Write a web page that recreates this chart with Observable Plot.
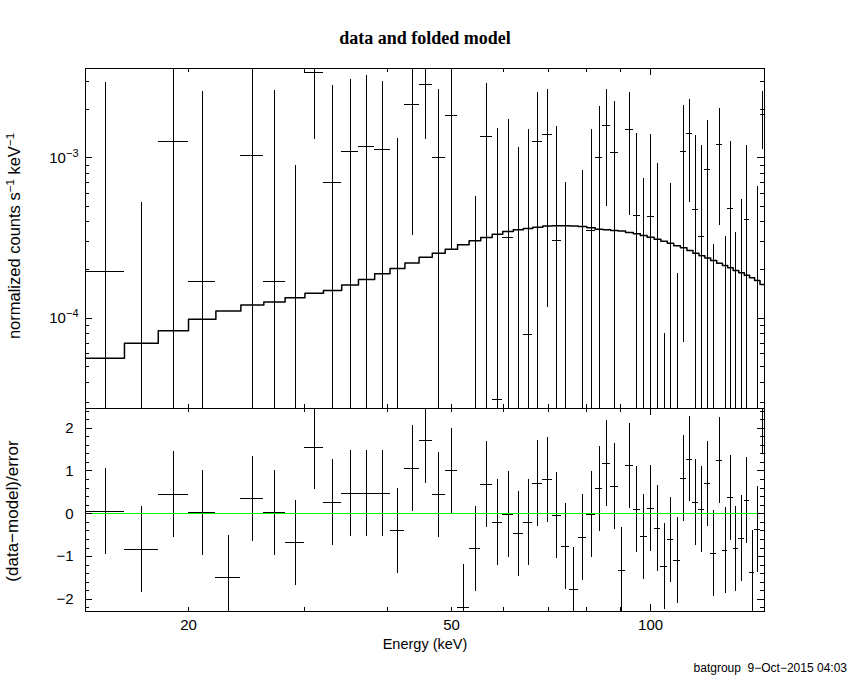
<!DOCTYPE html>
<html>
<head>
<meta charset="utf-8">
<script src="https://cdn.jsdelivr.net/npm/d3@7"></script>
<script src="https://cdn.jsdelivr.net/npm/@observablehq/plot@0.6"></script>
<style>
  body { margin: 0; background: #fff; }
  #wrap { position: relative; width: 850px; height: 680px; overflow: hidden; background: #fff; color: #000;
          font-family: "Liberation Sans", Arial, sans-serif; }
  #wrap svg { position: absolute; left: 0; }
  .lbl { position: absolute; white-space: nowrap; line-height: 1; }
  .rot { transform: translate(-50%, -50%) rotate(-90deg); }
  .ctr { transform: translate(-50%, -50%); }
  sup { font-size: 0.7em; vertical-align: 0; position: relative; top: -0.55em; }
</style>
</head>
<body>
<div id="wrap"></div>
<script>
// ---------------- data ----------------
// energy bin edges (keV), 59 bins
const binEdges = [14, 16, 18, 20, 22, 24, 26, 28, 30, 32, 34.1, 36.15, 38.25, 40.35, 42.5, 44.65,
  46.75, 48.9, 51.05, 53.15, 55.35, 57.6, 59.75, 62.0, 64.2, 66.35, 68.7, 71.0, 73.25, 75.45, 77.7,
  80.1, 82.45, 84.7, 87.0, 89.3, 91.65, 94.15, 96.5, 98.8, 101.25, 103.65, 106.0, 108.4, 110.95,
  113.5, 115.9, 118.35, 120.8, 123.25, 125.9, 128.45, 130.8, 133.3, 135.95, 138.6, 141.15, 143.65,
  146.4, 149.4];

// normalized counts s^-1 keV^-1
const rate = [1.955e-4, -2.156e-3, 1.264e-3, 1.694e-4, -3.64e-3, 1.029e-3, 1.694e-4, -1.484e-3,
  3.388e-3, 6.98e-4, 1.095e-3, 1.171e-3, 1.122e-3, -5.06e-4, 2.149e-3, 2.852e-3, 1.0e-3, 1.827e-3,
  -2.98e-3, -9.26e-4, 1.352e-3, 3.10e-5, 3.17e-4, -3.56e-4, 7.88e-5, 1.264e-3, 1.391e-3, 3.04e-4,
  -6.52e-4, -1.85e-3, -1.89e-4, 3.52e-4, 1.0e-3, 1.583e-3, 1.075e-3, -1.114e-3, 1.495e-3, 4.35e-4,
  -1.63e-4, 4.29e-4, -1.8e-5, -8.84e-4, -3.31e-4, -8.41e-4, 1.095e-3, 1.418e-3, 4.74e-4, 3.22e-4,
  8.45e-4, -5.0e-4, 1.205e-3, -4.63e-4, 4.81e-4, -4.58e-4, -3.02e-4, 4.11e-4, -9.25e-4, -1.16e-4,
  1.862e-3];

const rateErr = [2.75e-3, 2.68e-3, 2.62e-3, 2.42e-3, 2.5e-3, 2.59e-3, 2.46e-3, 2.38e-3, 2.09e-3,
  2.13e-3, 1.97e-3, 2.09e-3, 1.87e-3, 1.82e-3, 1.82e-3, 1.55e-3, 1.67e-3, 1.56e-3, 1.5e-3, 1.5e-3,
  1.55e-3, 1.485e-3, 1.416e-3, 1.515e-3, 1.422e-3, 1.29e-3, 1.275e-3, 1.263e-3, 1.354e-3, 1.25e-3,
  1.022e-3, 1.149e-3, 1.088e-3, 1.083e-3, 1.169e-3, 1.1e-3, 1.059e-3, 0.983e-3, 0.909e-3, 0.969e-3,
  0.94e-3, 0.964e-3, 1.023e-3, 1.03e-3, 1.024e-3, 0.891e-3, 0.903e-3, 0.871e-3, 0.863e-3, 0.79e-3,
  0.824e-3, 0.786e-3, 0.788e-3, 0.8e-3, 0.852e-3, 0.782e-3, 0.8e-3, 0.778e-3, 0.728e-3];

// folded model per bin
const model = [5.63e-5, 6.98e-5, 8.34e-5, 9.86e-5, 1.11e-4, 1.21e-4, 1.26e-4, 1.34e-4, 1.43e-4,
  1.49e-4, 1.61e-4, 1.74e-4, 1.89e-4, 2.04e-4, 2.21e-4, 2.40e-4, 2.54e-4, 2.69e-4, 2.87e-4, 3.04e-4,
  3.18e-4, 3.34e-4, 3.47e-4, 3.56e-4, 3.62e-4, 3.69e-4, 3.75e-4, 3.77e-4, 3.77e-4, 3.75e-4, 3.73e-4,
  3.66e-4, 3.59e-4, 3.56e-4, 3.52e-4, 3.49e-4, 3.42e-4, 3.36e-4, 3.28e-4, 3.20e-4, 3.11e-4, 3.02e-4,
  2.93e-4, 2.83e-4, 2.75e-4, 2.64e-4, 2.54e-4, 2.45e-4, 2.37e-4, 2.29e-4, 2.20e-4, 2.13e-4, 2.06e-4,
  1.98e-4, 1.92e-4, 1.85e-4, 1.79e-4, 1.72e-4, 1.62e-4];

// (data-model)/error per bin
const resid = [0.05, -0.83, 0.45, 0.02, -1.50, 0.35, 0.02, -0.68, 1.56, 0.26, 0.48, 0.48, 0.48,
  -0.40, 1.06, 1.71, 0.44, 1.00, -2.18, -0.82, 0.68, -0.21, -0.02, -0.47, -0.21, 0.71, 0.79, -0.04,
  -0.76, -1.78, -0.55, -0.02, 0.58, 1.18, 0.64, -1.33, 1.12, 0.10, -0.54, 0.12, -0.35, -1.23, -0.61,
  -1.09, 0.82, 1.28, 0.26, 0.10, 0.70, -0.93, 1.24, -0.86, 0.37, -0.82, -0.58, 0.31, -1.38, -0.37,
  2.38];

// axis ticks
const xTickLabels = [20, 50, 100];
const xMinorTicks = [20, 30, 40, 50, 60, 70, 80, 90];
const xMajorTicks = [100];
const yTopTickLabels = [1e-4, 1e-3];
const yTopMinorTicks = [3e-5, 4e-5, 5e-5, 6e-5, 7e-5, 8e-5, 9e-5, 2e-4, 3e-4, 4e-4, 5e-4, 6e-4,
  7e-4, 8e-4, 9e-4, 2e-3, 3e-3];
const yBotTickLabels = [-2, -1, 0, 1, 2];
const yBotMinorTicks = [-2.2, -1.8, -1.6, -1.4, -1.2, -0.8, -0.6, -0.4, -0.2, 0.2, 0.4, 0.6, 0.8,
  1.2, 1.4, 1.6, 1.8, 2.2, 2.4];

// ---------------- build ----------------
const bins = rate.map((r, i) => ({
  lo: binEdges[i], hi: binEdges[i + 1], mid: (binEdges[i] + binEdges[i + 1]) / 2,
  rate: r, err: rateErr[i], model: model[i], resid: resid[i]
}));
const modelSteps = bins.flatMap(b => [{e: b.lo, m: b.model}, {e: b.hi, m: b.model}]);

const W = 850, ML = 85, MR = 86;
const innerW = W - ML - MR;
const X_DOMAIN = [13.97, 148.7];
const FONT = "'Liberation Sans', Arial, sans-serif";
const crisp = {shapeRendering: "crispEdges"};

function tickMarks(innerH, xMinor, xMajor, yMinor, yMajor) {
  const o = {stroke: "black", strokeWidth: 1, ...crisp};
  return [
    Plot.ruleX(xMinor, {...o, x: d => d, insetTop: innerH - 4}),
    Plot.ruleX(xMinor, {...o, x: d => d, insetBottom: innerH - 4}),
    Plot.ruleX(xMajor, {...o, x: d => d, insetTop: innerH - 7}),
    Plot.ruleX(xMajor, {...o, x: d => d, insetBottom: innerH - 7}),
    Plot.ruleY(yMinor, {...o, y: d => d, insetRight: innerW - 4}),
    Plot.ruleY(yMinor, {...o, y: d => d, insetLeft: innerW - 4}),
    Plot.ruleY(yMajor, {...o, y: d => d, insetRight: innerW - 7}),
    Plot.ruleY(yMajor, {...o, y: d => d, insetLeft: innerW - 7})
  ];
}

const style = {fontFamily: FONT, fontSize: "15px", background: "transparent", overflow: "visible", color: "black"};

// top panel
const H1 = 410, MT1 = 68, MB1 = 2;
const topPlot = Plot.plot({
  width: W, height: H1, marginLeft: ML, marginRight: MR, marginTop: MT1, marginBottom: MB1,
  style,
  x: {type: "log", domain: X_DOMAIN, axis: null},
  y: {type: "log", domain: [2.735e-5, 3.603e-3], axis: null},
  marks: [
    Plot.ruleX(bins, {x: "mid", y1: d => Math.max(d.rate - d.err, 1e-7), y2: d => d.rate + d.err,
      stroke: "black", strokeWidth: 1, clip: true, ...crisp}),
    Plot.ruleY(bins.filter(d => d.rate > 0), {y: "rate", x1: "lo", x2: "hi",
      stroke: "black", strokeWidth: 1, clip: true, ...crisp}),
    Plot.line(modelSteps, {x: "e", y: "m", stroke: "black", strokeWidth: 1.5, clip: true}),
    ...tickMarks(H1 - MT1 - MB1, xMinorTicks, xMajorTicks, yTopMinorTicks, yTopTickLabels),
    Plot.axisY({ticks: yTopTickLabels, anchor: "left", tickSize: 0, tickPadding: 7, label: null,
      tickFormat: d => "10^\u2212" + Math.round(-Math.log10(d))}),
    Plot.frame({stroke: "black", strokeWidth: 1, ...crisp})
  ]
});

// bottom panel
const H2 = 274, MT2 = 2, MB2 = 69, TOP2 = 406;
const botPlot = Plot.plot({
  width: W, height: H2, marginLeft: ML, marginRight: MR, marginTop: MT2, marginBottom: MB2,
  style,
  x: {type: "log", domain: X_DOMAIN, axis: null},
  y: {domain: [-2.283, 2.46], axis: null},
  marks: [
    Plot.ruleX(bins, {x: "mid", y1: d => d.resid - 1, y2: d => d.resid + 1,
      stroke: "black", strokeWidth: 1, clip: true, ...crisp}),
    Plot.ruleY(bins, {y: "resid", x1: "lo", x2: "hi", stroke: "black", strokeWidth: 1, clip: true, ...crisp}),
    Plot.ruleY([0], {stroke: "#00ff00", strokeWidth: 1, ...crisp}),
    ...tickMarks(H2 - MT2 - MB2, xMinorTicks, xMajorTicks, yBotMinorTicks, yBotTickLabels),
    Plot.axisX({ticks: xTickLabels, anchor: "bottom", tickSize: 0, tickPadding: 8, label: null,
      tickFormat: d => String(d)}),
    Plot.axisY({ticks: yBotTickLabels, anchor: "left", tickSize: 0, tickPadding: 12, label: null,
      tickFormat: d => (d < 0 ? "\u2212" + (-d) : String(d))}),
    Plot.frame({stroke: "black", strokeWidth: 1, ...crisp})
  ]
});

// superscript exponent labels
function supify(svg) {
  const ns = "http://www.w3.org/2000/svg";
  svg.querySelectorAll("text").forEach(t => {
    const s = t.textContent;
    if (s.includes("^")) {
      const [base, exp] = s.split("^");
      t.textContent = "";
      const a = document.createElementNS(ns, "tspan"); a.textContent = base;
      const b = document.createElementNS(ns, "tspan"); b.textContent = exp;
      b.setAttribute("dy", "-0.55em"); b.setAttribute("font-size", "11");
      t.append(a, b);
    }
  });
}
supify(topPlot);

const wrap = document.getElementById("wrap");
topPlot.style.top = "0px";
botPlot.style.top = TOP2 + "px";
wrap.append(topPlot, botPlot);

function addLabel(html, x, y, cls, css) {
  const d = document.createElement("div");
  d.className = "lbl " + cls;
  d.innerHTML = html;
  d.style.left = x + "px"; d.style.top = y + "px";
  Object.assign(d.style, css || {});
  wrap.append(d);
}
addLabel("data and folded model", 425, 38, "ctr",
  {fontFamily: "'Liberation Serif', 'DejaVu Serif', serif", fontWeight: "bold", fontSize: "18px"});
addLabel("normalized counts s<sup>\u22121</sup> keV<sup>\u22121</sup>", 14, 236, "rot", {fontSize: "16.5px"});
addLabel("(data\u2212model)/error", 12, 511, "rot", {fontSize: "17px"});
addLabel("Energy (keV)", 425, 644, "ctr", {fontSize: "14.5px"});
addLabel("batgroup&nbsp;&nbsp;9\u2212Oct\u22122015 04:03", 847, 662, "", {fontSize: "12px", transform: "translateX(-100%)"});
</script>
</body>
</html>
